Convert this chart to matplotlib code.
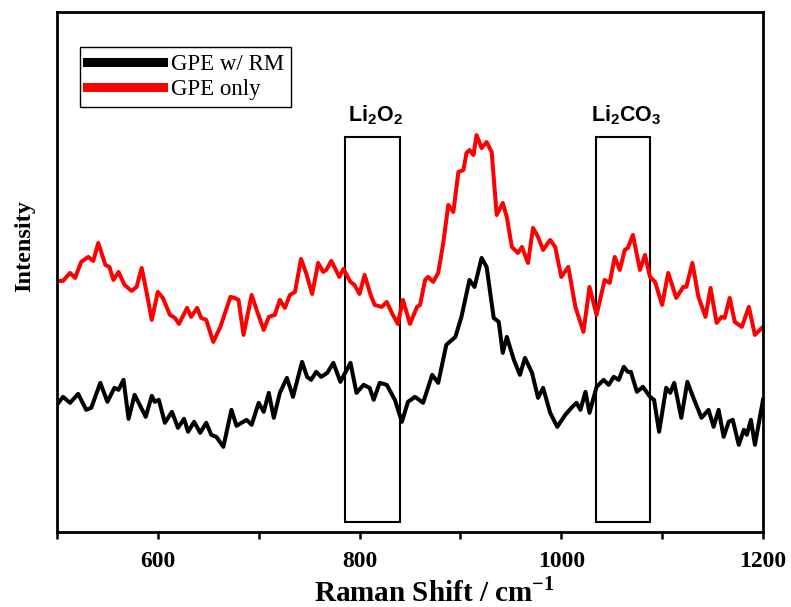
import numpy as np
import matplotlib
matplotlib.use('Agg')
import matplotlib.pyplot as plt
from matplotlib.patches import Rectangle

# Raman shift (cm-1) and intensity (a.u., offset traces)
x_red = [500, 506, 513, 518, 524, 531, 536, 541, 548, 552, 556, 561, 567, 574, 579,
         584, 589, 594, 600, 605, 612, 617, 621, 629, 633, 639, 643, 648, 655, 662,
         672, 676, 680, 685, 693, 698, 705, 710, 716, 721, 726, 731, 736, 742, 747,
         753, 759, 764, 767, 772, 780, 784, 791, 795, 800, 805, 811, 815, 822, 827,
         832, 838, 843, 850, 857, 860, 865, 868, 873, 878, 883, 888, 893, 898, 903,
         906, 909, 913, 916, 921, 926, 931, 936, 942, 946, 951, 957, 961, 967, 972,
         977, 982, 989, 994, 1000, 1007, 1014, 1022, 1028, 1035, 1043, 1048, 1053,
         1058, 1063, 1066, 1071, 1078, 1083, 1088, 1093, 1100, 1106, 1114, 1121, 1124,
         1130, 1136, 1143, 1148, 1154, 1159, 1162, 1167, 1172, 1179, 1186, 1192, 1200]
y_red = [251, 251, 259, 254, 270, 275, 271, 289, 267, 265, 252, 260, 247, 241, 245,
         264, 239, 212, 240, 234, 217, 214, 208, 224, 215, 224, 214, 212, 190, 205,
         235, 234, 232, 197, 237, 222, 202, 215, 217, 232, 224, 237, 240, 273, 259,
         238, 269, 260, 262, 271, 255, 263, 250, 247, 238, 257, 237, 227, 225, 230,
         219, 208, 232, 208, 225, 227, 252, 255, 250, 259, 289, 327, 320, 360, 362,
         379, 382, 377, 397, 384, 390, 380, 317, 329, 315, 285, 279, 285, 269, 304,
         295, 282, 292, 285, 255, 265, 225, 200, 245, 217, 252, 249, 275,
         262, 282, 284, 297, 262, 277, 255, 250, 227, 259, 234, 245, 245,
         269, 235, 215, 244, 209, 215, 214, 234, 210, 205, 225, 197, 205]

x_black = [500, 506, 513, 521, 529, 534, 543, 550, 557, 561, 566, 571, 577, 582, 588,
           594, 597, 601, 607, 614, 620, 626, 630, 636, 642, 648, 653, 658, 665, 673,
           678, 688, 693, 700, 705, 710, 715, 721, 728, 734, 743, 748, 752, 757, 762,
           768, 774, 781, 791, 797, 804, 810, 814, 820, 827, 835, 842, 848, 855, 863,
           872, 878, 886, 895, 901, 909, 914, 921, 926, 933, 938, 942, 946, 953, 959,
           964, 971, 977, 982, 989, 996, 1004, 1010, 1015, 1019, 1024, 1028, 1035,
           1042, 1047, 1052, 1057, 1062, 1066, 1069, 1075, 1081, 1088, 1092, 1097,
           1104, 1108, 1112, 1119, 1125, 1131, 1139, 1146, 1151, 1156, 1161, 1166,
           1170, 1176, 1181, 1184, 1188, 1192, 1200]
y_black = [127, 135, 129, 138, 122, 124, 149, 130, 144, 142, 152, 113, 137, 127, 115,
           136, 130, 132, 109, 120, 104, 113, 100, 110, 99, 109, 97, 95, 85, 122,
           106, 112, 107, 129, 120, 139, 114, 139, 154, 135, 170, 155, 152, 160, 155,
           159, 169, 150, 169, 139, 147, 144, 132, 149, 147, 132, 110, 130, 135, 129,
           157, 149, 187, 195, 215, 252, 245, 274, 265, 214, 210, 179, 195, 172, 157,
           174, 159, 134, 144, 119, 105, 117, 124, 129, 122, 140, 119, 145,
           152, 147, 155, 152, 165, 160, 160, 140, 145, 135, 132, 100,
           144, 139, 149, 114, 150, 134, 114, 122, 105, 122, 95, 110,
           112, 87, 102, 97, 112, 87, 132]

# marked regions: (label, start, end)
regions = [('Li$_\\mathsf{2}$O$_\\mathsf{2}$', 786, 840),
           ('Li$_\\mathsf{2}$CO$_\\mathsf{3}$', 1034, 1088)]
box_bottom = 10
box_top = 395

plt.rcParams['font.family'] = 'Liberation Serif'
plt.rcParams['mathtext.fontset'] = 'custom'
plt.rcParams['mathtext.rm'] = 'Liberation Serif:bold'
plt.rcParams['mathtext.sf'] = 'Liberation Sans:bold'

fig = plt.figure(figsize=(7.91, 6.07), dpi=100)
ax = fig.add_axes([0.072, 0.124, 0.8926, 0.856])

ax.plot(x_black, y_black, color='black', lw=2.9, label='GPE w/ RM', solid_joinstyle='round')
ax.plot(x_red, y_red, color='red', lw=2.9, label='GPE only', solid_joinstyle='round')

for name, x0, x1 in regions:
    ax.add_patch(Rectangle((x0, box_bottom), x1 - x0, box_top - box_bottom,
                           fill=False, edgecolor='black', lw=1.5))
    ax.text((x0 + x1) / 2 + 3, box_top + 10, name, ha='center', va='bottom',
            fontsize=15.5, fontweight='bold', family='Liberation Sans')

ax.set_xlim(500, 1200)
ax.set_ylim(0, 520)
ax.set_xticks([600, 800, 1000, 1200])
ax.set_xticks([500, 700, 900, 1100], minor=True)
ax.set_yticks([])
ax.tick_params(axis='x', which='both', direction='out', length=5, width=1.8,
               labelsize=17, pad=9)
for lbl in ax.get_xticklabels():
    lbl.set_fontweight('bold')
for sp in ax.spines.values():
    sp.set_linewidth(2.0)

ax.set_xlabel('Raman Shift / cm$^{\\mathrm{-1}}$', fontsize=21, fontweight='bold')
ax.xaxis.set_label_coords(0.535, -0.088)
ax.set_ylabel('Intensity', fontsize=17.5, fontweight='bold')
ax.yaxis.set_label_coords(-0.031, 0.549)

leg = ax.legend(loc='upper left', bbox_to_anchor=(0.033, 0.933), borderaxespad=0,
                fontsize=16.5, handlelength=3.3, handletextpad=0.35, borderpad=0.3,
                labelspacing=0.2, fancybox=False, framealpha=1)
leg.get_frame().set_edgecolor('black')
leg.get_frame().set_linewidth(1.0)
for h in leg.get_lines():
    h.set_linewidth(6.5)

plt.savefig('out.png', dpi=100)
